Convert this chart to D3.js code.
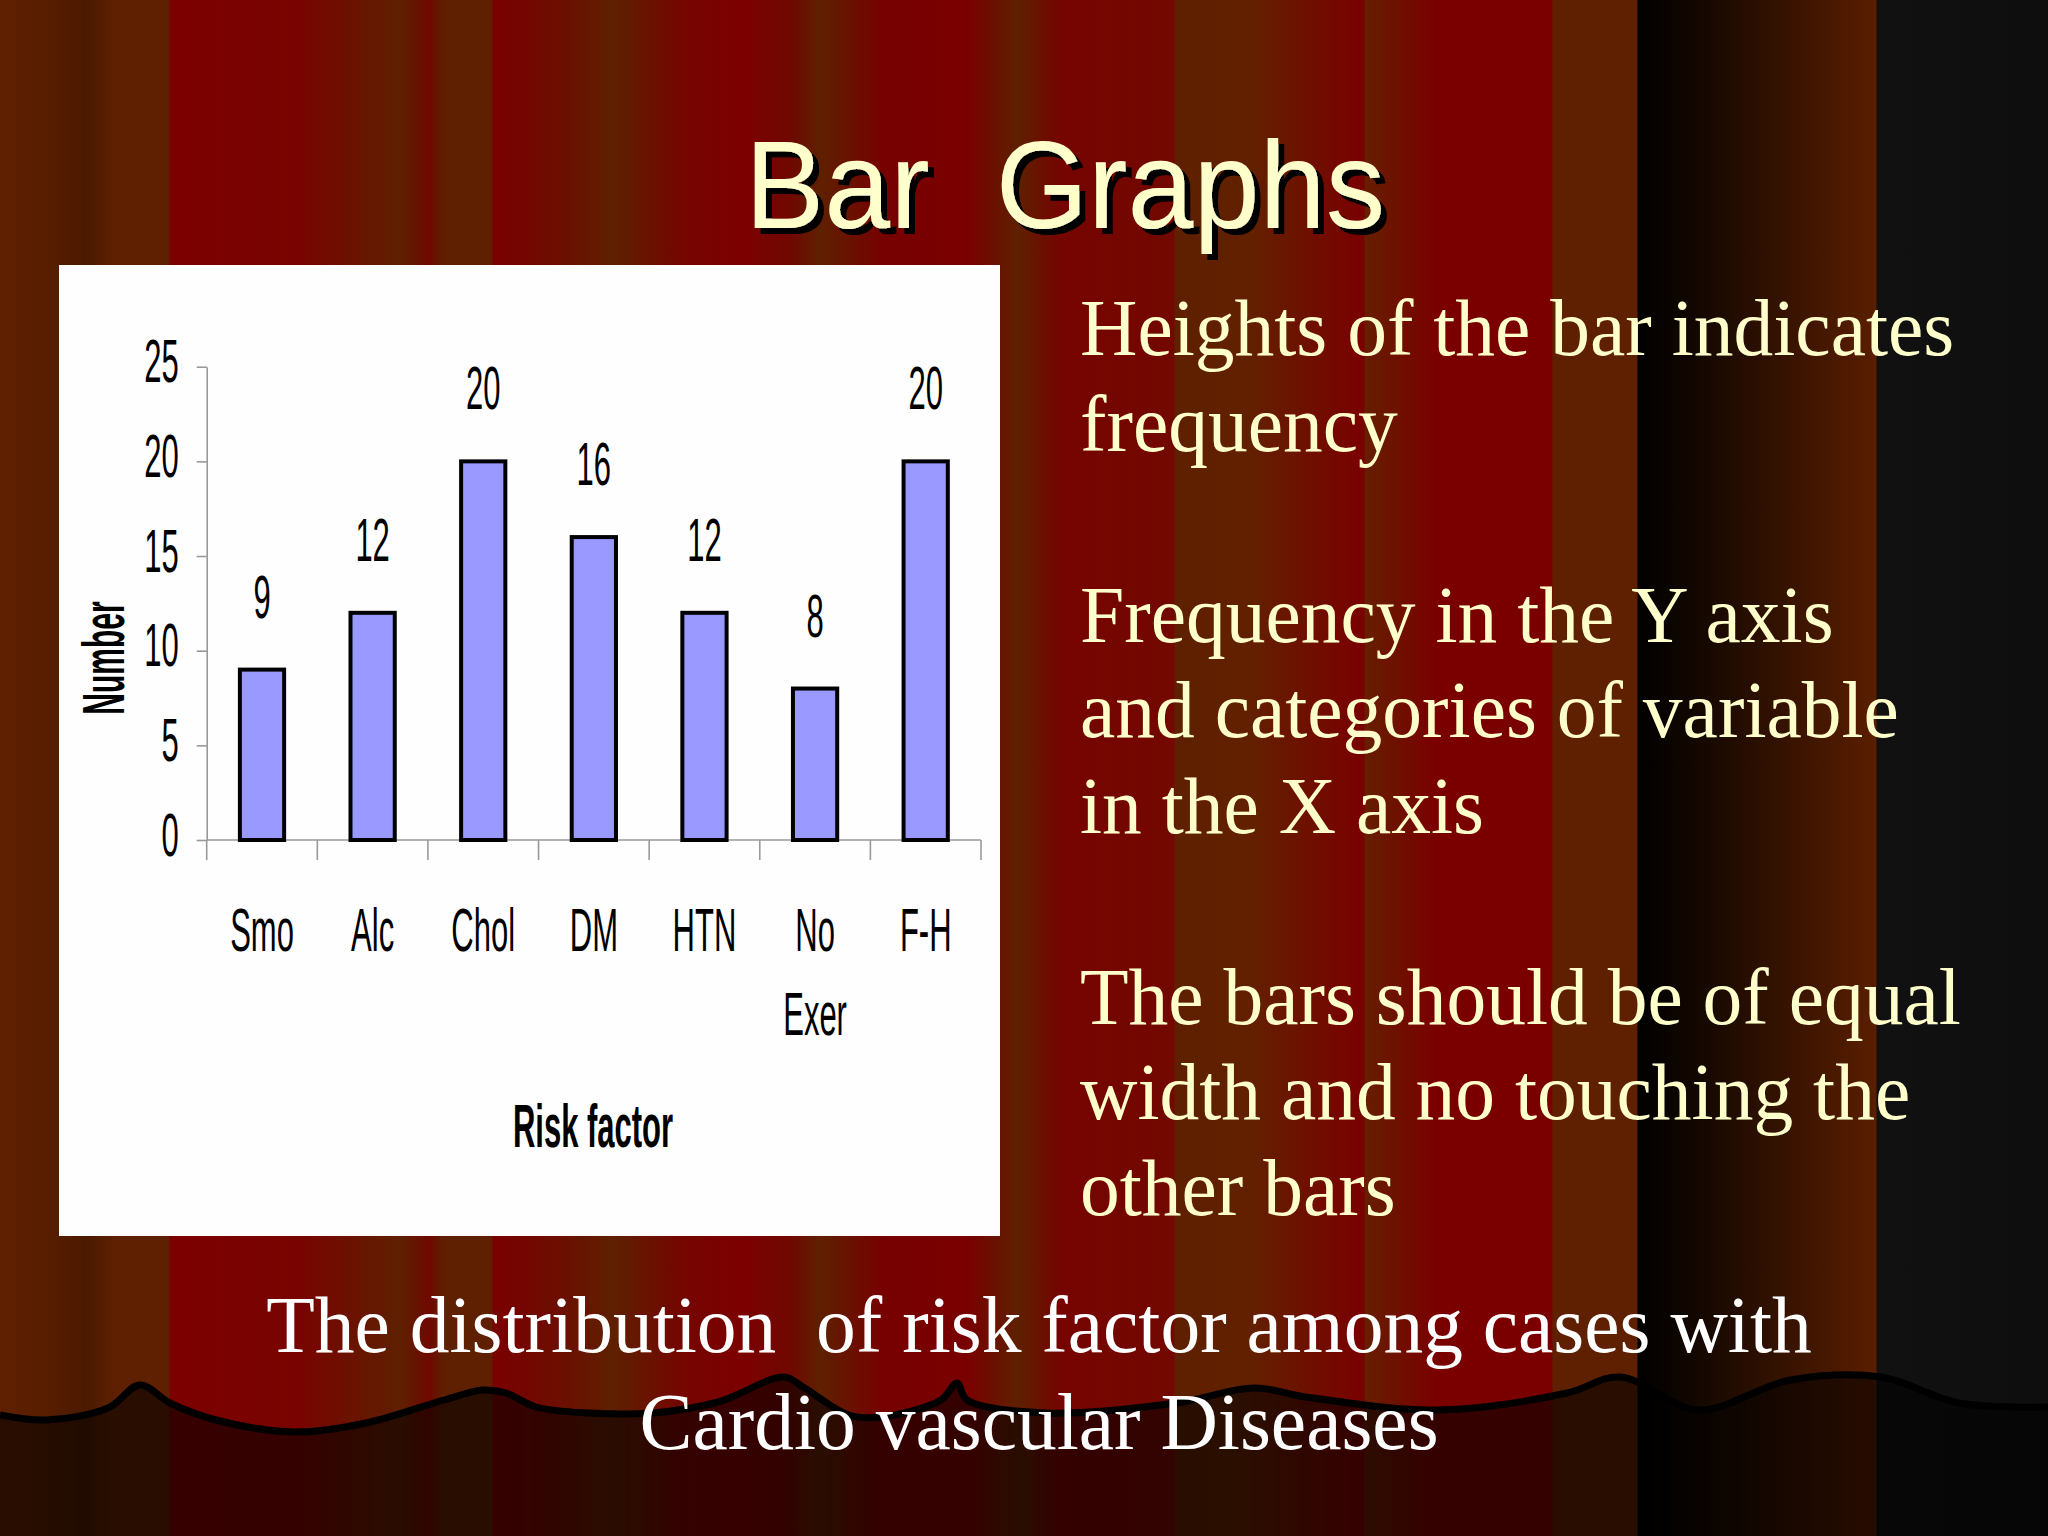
<!DOCTYPE html>
<html lang="en">
<head>
<meta charset="UTF-8">
<title>Bar Graphs</title>
<script src="https://d3js.org/d3.v7.min.js"></script>
<style>
  html, body { margin: 0; padding: 0; background: #000; overflow: hidden; }
  svg { display: block; }
</style>
</head>
<body>
<div id="slide"></div>
<script>
// chart data
const categories = ["Smo", "Alc", "Chol", "DM", "HTN", "No Exer", "F-H"];
const counts = [9, 12, 20, 16, 12, 8, 20];
const yTicks = [0, 5, 10, 15, 20, 25];
const yLabel = "Number";
const xLabel = "Risk factor";

// slide text
const slideTitle = "Bar  Graphs";
const notes = [
  "Heights of the bar indicates",
  "frequency",
  "",
  "Frequency in the Y axis",
  "and categories of variable",
  "in the X axis",
  "",
  "The bars should be of equal",
  "width and no touching the",
  "other bars"
];
const caption = [
  "The distribution  of risk factor among cases with",
  "Cardio vascular Diseases"
];

const W = 2048, H = 1536;
const sans = "'Liberation Sans', Arial, sans-serif";
const serif = "'Liberation Serif', 'Times New Roman', serif";
const squeeze = 0.5; // chart lettering is very narrow

const svg = d3.select("#slide").append("svg")
  .attr("width", W).attr("height", H);

// curtain background
const defs = svg.append("defs");
const curtain = defs.append("linearGradient")
  .attr("id", "curtain")
  .attr("gradientUnits", "userSpaceOnUse")
  .attr("x1", 0).attr("x2", W).attr("y1", 0).attr("y2", 0);
[
  [0, "#5e2000"], [55, "#561d00"], [85, "#4a1a00"], [115, "#5e2000"], [169, "#5e2000"],
  [170, "#7c0000"], [300, "#780400"], [400, "#5e2000"], [430, "#700800"], [443, "#5e2000"],
  [492, "#5e2000"], [493, "#7a0000"], [560, "#6c0e00"], [614, "#5e2000"], [680, "#740600"],
  [740, "#7c0000"], [790, "#700800"], [820, "#5e2000"], [880, "#760200"], [966, "#7a0000"],
  [1018, "#5e2000"], [1060, "#760400"], [1174, "#720800"], [1175, "#5e2000"], [1250, "#622000"],
  [1364, "#7a0000"], [1365, "#661e00"], [1436, "#7a0000"], [1552, "#7a0000"], [1553, "#5e2000"],
  [1637, "#5e2000"], [1638, "#000000"], [1700, "#140800"], [1876, "#5a1e00"], [1877, "#111111"],
  [2048, "#0e0e0e"]
].forEach(([x, c]) => curtain.append("stop").attr("offset", x / W).attr("stop-color", c));

// shadow for the title
defs.append("filter")
  .attr("id", "shadow")
  .attr("x", "-10%").attr("y", "-10%").attr("width", "120%").attr("height", "130%")
  .append("feDropShadow")
  .attr("dx", 6).attr("dy", 6).attr("stdDeviation", 0)
  .attr("flood-color", "#000").attr("flood-opacity", 1);

svg.append("rect").attr("width", W).attr("height", H).attr("fill", "url(#curtain)");

// curtain hem: darker band below a wavy edge
const hem = [
  [0, 1415], [46, 1420], [108, 1408], [140, 1385], [170, 1403], [216, 1420], [294, 1432],
  [366, 1423], [444, 1400], [483, 1390], [506, 1393], [536, 1407], [588, 1413], [653, 1413],
  [718, 1402], [784, 1377], [803, 1387], [849, 1415], [882, 1417], [941, 1400], [957, 1383],
  [967, 1400], [1045, 1413], [1176, 1403], [1254, 1388], [1306, 1397], [1437, 1410],
  [1567, 1393], [1620, 1377], [1698, 1410], [1790, 1380], [1881, 1377], [1959, 1403], [2048, 1407]
];
const hemLine = d3.line().curve(d3.curveCatmullRom);
svg.append("path")
  .attr("d", hemLine(hem) + `L${W},${H}L0,${H}Z`)
  .attr("fill", "#000").attr("fill-opacity", 0.56);
svg.append("path")
  .attr("d", hemLine(hem))
  .attr("fill", "none").attr("stroke", "#000").attr("stroke-width", 7);

// title
svg.append("text")
  .attr("x", 1065).attr("y", 228)
  .attr("text-anchor", "middle")
  .attr("font-family", sans).attr("font-size", 124)
  .attr("textLength", 640).attr("lengthAdjust", "spacingAndGlyphs")
  .attr("fill", "#ffffcc")
  .attr("filter", "url(#shadow)")
  .style("white-space", "pre")
  .text(slideTitle);

// white chart panel
svg.append("rect")
  .attr("x", 59).attr("y", 265)
  .attr("width", 941).attr("height", 971)
  .attr("fill", "#fefefe");

const chart = svg.append("g");

const x = d3.scaleBand()
  .domain(categories)
  .range([206.7, 981])
  .paddingInner(0.6)
  .paddingOuter(0.3);

const y = d3.scaleLinear()
  .domain([0, 25])
  .range([840, 366.7]);

// y axis
const yAxis = chart.append("g")
  .attr("transform", `translate(${x.range()[0]},0)`)
  .call(d3.axisLeft(y).tickValues(yTicks).tickSize(10).tickSizeOuter(0));
yAxis.select(".domain").attr("stroke", "#999").attr("stroke-width", 1.6);
yAxis.selectAll(".tick line").attr("stroke", "#999").attr("stroke-width", 1.6);
yAxis.selectAll(".tick text")
  .attr("x", null).attr("dy", null)
  .attr("transform", `translate(-28,15) scale(${squeeze},1)`)
  .attr("text-anchor", "end")
  .attr("font-family", sans).attr("font-size", 62)
  .attr("fill", "#000");

// x axis: baseline plus ticks at the category boundaries
const step = x.step();
const bounds = d3.range(categories.length + 1).map(i => x.range()[0] + i * step);
chart.append("line")
  .attr("x1", x.range()[0]).attr("x2", x.range()[1])
  .attr("y1", y(0)).attr("y2", y(0))
  .attr("stroke", "#999").attr("stroke-width", 1.6);
chart.selectAll(".xtick")
  .data(bounds)
  .join("line")
  .attr("class", "xtick")
  .attr("x1", d => d).attr("x2", d => d)
  .attr("y1", y(0)).attr("y2", y(0) + 20)
  .attr("stroke", "#999").attr("stroke-width", 1.6);

// bars
chart.selectAll(".bar")
  .data(counts)
  .join("rect")
  .attr("class", "bar")
  .attr("x", (d, i) => x(categories[i]))
  .attr("width", x.bandwidth())
  .attr("y", d => y(d))
  .attr("height", d => y(0) - y(d))
  .attr("fill", "#9999ff")
  .attr("stroke", "#000")
  .attr("stroke-width", 4);

// value labels
chart.selectAll(".val")
  .data(counts)
  .join("text")
  .attr("class", "val")
  .attr("transform", (d, i) =>
    `translate(${x(categories[i]) + x.bandwidth() / 2},${y(d) - 52}) scale(${squeeze},1)`)
  .attr("text-anchor", "middle")
  .attr("font-family", sans).attr("font-size", 62)
  .text(d => d);

// category labels (wrapped on spaces)
const catText = chart.selectAll(".cat")
  .data(categories)
  .join("text")
  .attr("class", "cat")
  .attr("transform", d =>
    `translate(${x(d) + x.bandwidth() / 2},951) scale(${squeeze},1)`)
  .attr("text-anchor", "middle")
  .attr("font-family", sans).attr("font-size", 62);
catText.selectAll("tspan")
  .data(d => d.split(" "))
  .join("tspan")
  .attr("x", 0)
  .attr("y", (d, i) => i * 84)
  .text(d => d);

// axis titles
chart.append("text")
  .attr("transform", `translate(124,658) rotate(-90) scale(${squeeze},1)`)
  .attr("text-anchor", "middle")
  .attr("font-family", sans).attr("font-size", 60).attr("font-weight", "bold")
  .text(yLabel);

chart.append("text")
  .attr("transform", `translate(593,1147) scale(${squeeze},1)`)
  .attr("text-anchor", "middle")
  .attr("font-family", sans).attr("font-size", 62).attr("font-weight", "bold")
  .text(xLabel);

// notes on the right
svg.append("g").selectAll("text")
  .data(notes)
  .join("text")
  .attr("x", 1080)
  .attr("y", (d, i) => 355 + i * 95.5)
  .attr("font-family", serif).attr("font-size", 79.5)
  .attr("fill", "#ffffcc")
  .text(d => d);

// caption at the bottom
svg.append("g").selectAll("text")
  .data(caption)
  .join("text")
  .attr("x", 1039)
  .attr("y", (d, i) => 1352 + i * 97)
  .attr("text-anchor", "middle")
  .attr("font-family", serif).attr("font-size", 79.5)
  .attr("fill", "#fff")
  .style("white-space", "pre")
  .text(d => d);
</script>
</body>
</html>
